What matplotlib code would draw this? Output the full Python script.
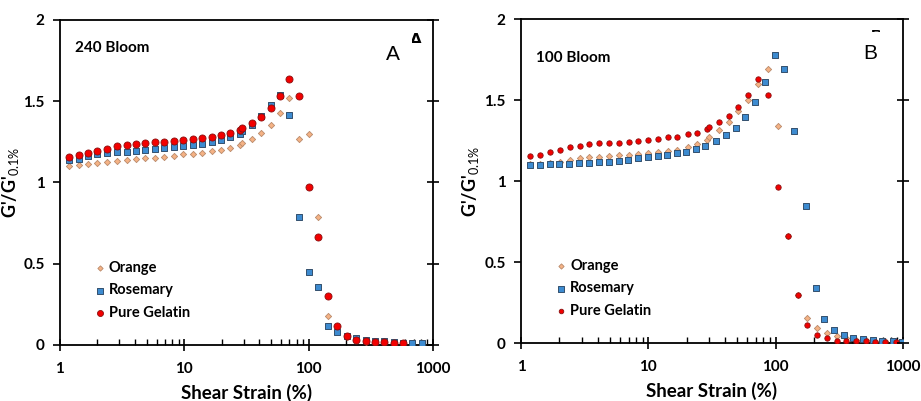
import numpy as np
import matplotlib
matplotlib.use('Agg')
import matplotlib.pyplot as plt
from matplotlib.patches import Rectangle
from matplotlib.ticker import LogLocator, NullFormatter, FixedLocator

plt.rcParams['font.family'] = ['Lato', 'DejaVu Sans']
plt.rcParams['mathtext.fontset'] = 'custom'
plt.rcParams['mathtext.rm'] = 'Lato'
plt.rcParams['mathtext.bf'] = 'Lato:bold'

# ---- panel A : 240 Bloom ----
a_gel_x = [1.18, 1.42, 1.69, 2.0, 2.4, 2.87, 3.43, 4.07, 4.87, 5.8, 6.9, 8.2, 9.8,
           11.7, 13.9, 16.6, 19.8, 23.5, 28.1, 29.0, 34.9, 41.7, 49.6, 58.9, 70.0,
           83.6, 100, 119.5, 142, 169, 202, 241, 288, 343, 407, 483, 574]
a_gel_y = [1.159, 1.169, 1.181, 1.195, 1.206, 1.222, 1.230, 1.238, 1.245, 1.247, 1.251,
           1.255, 1.263, 1.267, 1.271, 1.279, 1.294, 1.304, 1.324, 1.335, 1.367, 1.404,
           1.458, 1.533, 1.634, 1.531, 0.970, 0.665, 0.303, 0.115, 0.055, 0.033, 0.023,
           0.016, 0.016, 0.012, 0.012]
a_ros_x = a_gel_x + [683, 816]
a_ros_y = [1.136, 1.146, 1.161, 1.173, 1.179, 1.185, 1.187, 1.193, 1.200, 1.206, 1.212,
           1.218, 1.224, 1.230, 1.238, 1.249, 1.263, 1.281, 1.300, 1.314, 1.355, 1.406,
           1.474, 1.537, 1.417, 0.790, 0.450, 0.358, 0.115, 0.078, 0.055, 0.041, 0.033,
           0.027, 0.023, 0.016, 0.014, 0.012, 0.012]
a_ora_x = a_gel_x
a_ora_y = [1.103, 1.107, 1.112, 1.120, 1.126, 1.132, 1.140, 1.144, 1.148, 1.153, 1.157,
           1.165, 1.173, 1.175, 1.181, 1.191, 1.202, 1.214, 1.228, 1.243, 1.267, 1.304,
           1.353, 1.425, 1.519, 1.267, 1.298, 0.790, 0.178, 0.085, 0.050, 0.030, 0.020,
           0.015, 0.012, 0.010, 0.010]

# ---- panel B : 100 Bloom ----
b_gel_x = [1.18, 1.41, 1.69, 2.03, 2.43, 2.91, 3.44, 4.13, 4.92, 5.86, 7.02, 8.36, 9.96,
           11.9, 14.2, 16.9, 20.3, 24.3, 28.8, 30.2, 36.0, 42.6, 50.8, 60.5, 72.4, 86.8,
           103.4, 124.7, 148.6, 175.9, 212, 254, 304, 358, 430, 508, 606, 721, 875]
b_gel_y = [1.155, 1.163, 1.178, 1.192, 1.207, 1.219, 1.227, 1.233, 1.237, 1.237, 1.242,
           1.248, 1.254, 1.262, 1.270, 1.274, 1.289, 1.299, 1.320, 1.332, 1.365, 1.402,
           1.455, 1.529, 1.630, 1.531, 0.966, 0.660, 0.298, 0.109, 0.047, 0.029, 0.014,
           0.014, 0.010, 0.010, 0.006, 0.006, 0.006]
b_ros_x = [1.18, 1.41, 1.69, 2.0, 2.38, 2.86, 3.40, 4.08, 4.89, 5.86, 6.98, 8.31, 9.96,
           11.86, 14.13, 16.83, 19.93, 23.7, 27.9, 33.7, 40.4, 48.4, 57.6, 68.2, 81.8,
           98.0, 116.7, 138.1, 171.7, 205.8, 240.6, 285, 341.6, 404, 481.7, 577, 687.8,
           828.8, 987]
b_ros_y = [1.096, 1.096, 1.102, 1.102, 1.106, 1.110, 1.112, 1.116, 1.118, 1.122, 1.128,
           1.139, 1.147, 1.155, 1.163, 1.172, 1.182, 1.198, 1.217, 1.248, 1.283, 1.330,
           1.396, 1.490, 1.614, 1.778, 1.690, 1.311, 0.847, 0.339, 0.150, 0.078, 0.047,
           0.033, 0.023, 0.018, 0.014, 0.014, 0.008]
b_ora_x = b_gel_x
b_ora_y = [1.106, 1.108, 1.112, 1.116, 1.131, 1.139, 1.147, 1.151, 1.155, 1.159, 1.163,
           1.168, 1.172, 1.178, 1.184, 1.192, 1.213, 1.227, 1.254, 1.272, 1.313, 1.365,
           1.431, 1.503, 1.597, 1.692, 1.340, 0.660, 0.298, 0.154, 0.095, 0.062, 0.041,
           0.029, 0.021, 0.016, 0.012, 0.010, 0.008]

labels = ['Orange', 'Rosemary', 'Pure Gelatin']
yticks = [0, 0.5, 1, 1.5, 2]
ytick_labels = ['0', '0.5', '1', '1.5', '2']
xticks = [1, 10, 100, 1000]
xtick_labels = ['1', '10', '100', '1000']

c_ora, e_ora = '#F5B285', '#B98A6A'
c_ros, e_ros = '#3D8BD0', '#33506E'
c_gel, e_gel = '#F20000', '#8A1010'

W, H = 921, 401


def panel(ax, ora, ros, gel, gel_size, title, title_y, letter, letter_x):
    ax.scatter(ora[0], ora[1], marker='D', s=10, color=c_ora, edgecolor=e_ora,
               linewidth=0.6, zorder=3, label=labels[0])
    ax.scatter(ros[0], ros[1], marker='s', s=24, color=c_ros, edgecolor=e_ros,
               linewidth=0.7, zorder=4, label=labels[1])
    ax.scatter(gel[0], gel[1], marker='o', s=gel_size, color=c_gel, edgecolor=e_gel,
               linewidth=0.6, zorder=5, label=labels[2])
    ax.set_xscale('log')
    ax.set_xlim(1, 1000)
    ax.set_ylim(0, 2)
    ax.xaxis.set_major_locator(FixedLocator(xticks))
    ax.set_xticklabels(xtick_labels, fontweight='bold', fontsize=11)
    ax.xaxis.set_minor_locator(LogLocator(base=10, subs=np.arange(2, 10)))
    ax.xaxis.set_minor_formatter(NullFormatter())
    ax.set_yticks(yticks)
    ax.set_yticklabels(ytick_labels, fontweight='bold', fontsize=11)
    for s in ax.spines.values():
        s.set_linewidth(1.3)
    ax.tick_params(axis='y', which='major', direction='out', length=5, width=1.2, pad=6,
                   left=True, right=False)
    ax.tick_params(axis='x', which='major', direction='inout', length=8, width=1.2, pad=8)
    ax.tick_params(axis='x', which='minor', direction='in', length=4, width=1.0)
    # right-hand ticks crossing the frame
    ax2 = ax.twinx()
    ax2.set_ylim(0, 2)
    ax2.set_yticks(yticks)
    ax2.set_yticklabels([])
    ax2.tick_params(axis='y', direction='inout', length=9, width=1.2)
    for s in ax2.spines.values():
        s.set_visible(False)
    ax.set_xlabel('Shear Strain (%)', fontweight='bold', fontsize=13.5, labelpad=6)
    ax.set_ylabel("G'/G'$_{\\mathrm{0.1\\%}}$", fontweight='bold', fontsize=13)
    ax.yaxis.set_label_coords(-0.105, 0.5)
    ax.text(0.04, title_y, title, transform=ax.transAxes, fontweight='bold', fontsize=11,
            va='center', ha='left')
    ax.text(letter_x, 0.895, letter, transform=ax.transAxes, family='Liberation Sans',
            fontsize=15, va='center', ha='center')
    ax.legend(loc='lower left', bbox_to_anchor=(0.06, 0.045), frameon=False,
              prop={'weight': 'bold', 'size': 10.5}, handletextpad=0.1,
              labelspacing=0.6, markerscale=0.85, handlelength=1.0, borderpad=0.2)


# clipped fragment of a stray letter peeking in at the top of a panel
def fragment(ch, x, base_y, clip, size, weight):
    t = fig.text(x / W, 1 - base_y / H, ch, family='Liberation Sans', fontsize=size,
                 fontweight=weight, ha='center', va='baseline')
    x0, y0, x1, y1 = clip
    r = Rectangle((x0 / W, 1 - y1 / H), (x1 - x0) / W, (y1 - y0) / H,
                  transform=fig.transFigure, visible=False)
    fig.add_artist(r)
    t.set_clip_path(r)
    t.set_clip_on(True)


fig = plt.figure(figsize=(9.21, 4.01), dpi=100)
ax1 = fig.add_axes([0.0651, 0.1397, 0.405, 0.8105])
ax2 = fig.add_axes([0.5657, 0.1446, 0.4148, 0.808])

panel(ax1, (a_ora_x, a_ora_y), (a_ros_x, a_ros_y), (a_gel_x, a_gel_y), 26,
      '240 Bloom', 0.915, 'A', 0.893)
panel(ax2, (b_ora_x, b_ora_y), (b_ros_x, b_ros_y), (b_gel_x, b_gel_y), 15,
      '100 Bloom', 0.88, 'B', 0.914)

fragment('A', 416, 46, (412, 30, 422, 43), 14, 'bold')
fragment('B', 877, 42, (870, 27, 880, 32), 12, 'bold')

fig.savefig('out.png', dpi=100)
